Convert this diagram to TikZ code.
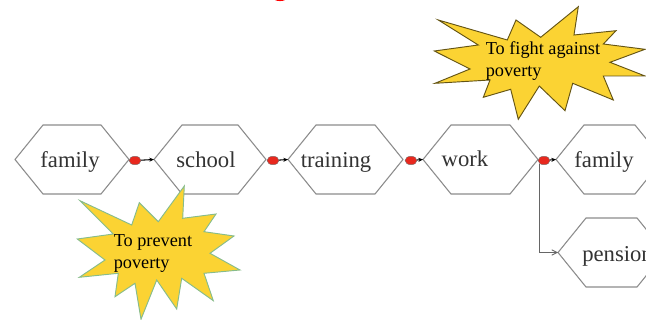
\documentclass[tikz,border=0pt]{standalone}
\usepackage{fontspec}
\setmainfont{Liberation Serif}
\usetikzlibrary{arrows.meta,shapes.geometric}
\definecolor{starfill}{HTML}{FBD333}
\definecolor{hexline}{HTML}{8C8C8C}
\definecolor{dotred}{HTML}{E8281E}
\definecolor{stargreen}{HTML}{86BC8C}
\tikzset{
  hexbox/.style={inner sep=0pt,outer sep=0pt,minimum height=#1},
  hexlabel/.style={anchor=base,inner sep=0pt,font=\fontsize{17}{20}\selectfont,text=black!80},
  joint/.style={ellipse,fill=dotred,draw=black!55,line width=.3pt,minimum width=9pt,minimum height=6.4pt,inner sep=0pt},
  startext/.style={anchor=north west,align=left,inner sep=0pt,font=\fontsize{13.7}{15}\selectfont},
  link/.style={draw=black,line width=.8pt,-{Stealth[length=3.5pt,width=3pt]}},
  elbow/.style={draw=black!60,line width=.6pt,-{Straight Barb[length=4pt,width=4pt]}},
}
\newcommand{\hexshape}[1]{%
  \draw[hexline,line width=.8pt]
    (#1.west) -- ([xshift=21pt]#1.north west) -- ([xshift=-21pt]#1.north east)
    -- (#1.east) -- ([xshift=-21pt]#1.south east) -- ([xshift=21pt]#1.south west) -- cycle;}
\begin{document}
\begin{tikzpicture}[x=.75pt,y=-.75pt]
\useasboundingbox (0,0) rectangle (646,320);
\clip (0,0) rectangle (646,320);
\fill[white] (0,0) rectangle (646,320);
% top red mark
\fill[red] (280,-2) ellipse [x radius=4.9pt,y radius=2.3pt];
% hexagons
\node[hexbox=51.75pt,minimum width=85.5pt] (hfamily) at (72,159.5) {};
\node[hexbox=51.75pt,minimum width=84pt] (hschool) at (210,159.5) {};
\node[hexbox=51.75pt,minimum width=86.25pt] (htraining) at (345.5,159.5) {};
\node[hexbox=51.75pt,minimum width=86.25pt] (hwork) at (480.5,159.5) {};
\node[hexbox=51.75pt,minimum width=80.25pt] (hfamilyb) at (609.5,159.5) {};
\node[hexbox=51.75pt,minimum width=80.25pt] (hpension) at (611.5,252.5) {};
\hexshape{hfamily}\hexshape{hschool}\hexshape{htraining}\hexshape{hwork}\hexshape{hfamilyb}\hexshape{hpension}
% labels
\node[hexlabel] (lfamily) at (70,168) {family};
\node[hexlabel] (lschool) at (206,168) {school};
\node[hexlabel] (ltraining) at (336,168) {training};
\node[hexlabel] (lwork) at (465,167) {work};
\node[hexlabel] (lfamilyb) at (604,168) {family};
\node[hexlabel,anchor=base west] (lpension) at (582,262) {pension};
% joints
\node[joint] (ja) at (135,160.5) {};
\node[joint] (jb) at (273,160.5) {};
\node[joint] (jc) at (411,160.5) {};
\node[joint] (jd) at (544,160.5) {};
% connectors
\draw[link] (ja) -- (hschool.west);
\draw[link] (jb) -- (htraining.west);
\draw[link] (jc) -- (hwork.west);
\draw[link] (jd) -- (hfamilyb.west);
\draw[elbow] (jd.south west) |- (hpension.west);
% star 1
\draw[fill=starfill,draw=stargreen,line width=.7pt]
 (80,200.7) -- (131.7,225) -- (139.3,202.7) -- (158.3,221.7) -- (184.3,186) -- (182.7,218.3)
 -- (216,214) -- (204,231.7) -- (234,236) -- (210,253.3) -- (240,270) -- (204,273.3)
 -- (213.3,300.7) -- (181.7,278.3) -- (176.7,309) -- (156.7,280) -- (141,319.3) -- (135,283.3)
 -- (115,296.7) -- (118.3,273.3) -- (79.3,277.3) -- (105,260) -- (77.3,239) -- (113.3,234) -- cycle;
\node[startext] (tstara) at (113.5,234) {To prevent\\[2pt]poverty};
% star 2
\draw[fill=starfill,draw=black!60!starfill,line width=.7pt]
 (438.3,20) -- (507.3,40) -- (516,20) -- (540.7,37.3) -- (578.3,6.7) -- (574,35)
 -- (616,30.7) -- (603.3,44) -- (645,49.3) -- (610,62.3) -- (645,76) -- (603.3,76)
 -- (613.3,100) -- (572.7,83.3) -- (565,110.7) -- (539.3,86) -- (518.3,119.3) -- (510.7,89.3)
 -- (483.3,97.3) -- (490,80) -- (435,83.3) -- (470,69) -- (434.3,51) -- (478.3,45) -- cycle;
\node[startext] (tstarb) at (485.5,41) {To fight against\\[2pt]poverty};
\end{tikzpicture}
\end{document}
